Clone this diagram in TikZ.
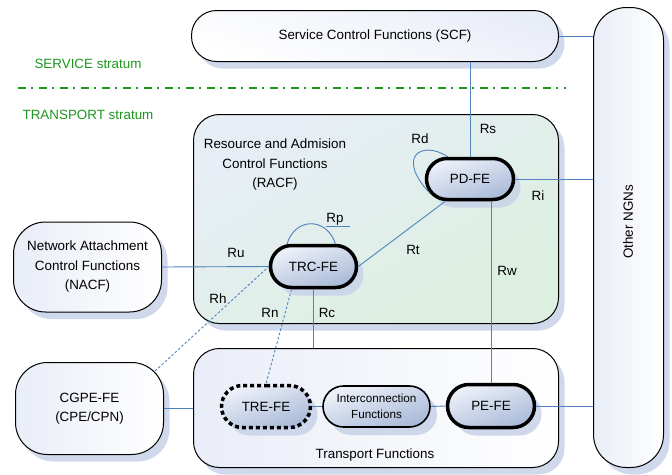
\documentclass[tikz,border=0pt]{standalone}
\usepackage{fontspec}
\setmainfont{Liberation Sans}
\usetikzlibrary{shapes.misc,shadows,calc}

\definecolor{conn}{HTML}{4F81BD}
\definecolor{strat}{HTML}{1E961E}
\definecolor{shade}{HTML}{C8D2E8}
\definecolor{feLight}{HTML}{EEF1F9}
\definecolor{feDark}{HTML}{A9BAD8}
\definecolor{racfA}{HTML}{E7EEF6}
\definecolor{racfB}{HTML}{DCEFE0}
\definecolor{paleA}{HTML}{FFFFFF}
\definecolor{paleB}{HTML}{E9EDF7}

\tikzset{
  txt/.style={font=\fontsize{13.4}{19.5}\selectfont, align=center, inner sep=0pt},
  bigbox/.style={txt, rectangle, draw=black, line width=1pt,
    drop shadow={shadow xshift=6pt, shadow yshift=-7pt, fill=shade, opacity=0.85}},
  fe/.style={txt, rounded rectangle, draw=black, line width=3.5pt,
    top color=feLight, bottom color=feDark, shading angle=20,
    drop shadow={shadow xshift=7pt, shadow yshift=-8pt, fill=shade, opacity=0.85}},
  lbl/.style={txt, text height=9.6pt, text depth=0pt},
  stratlbl/.style={txt, text=strat, text height=9.6pt, text depth=0pt},
  link/.style={draw=conn, line width=0.9pt},
  dlink/.style={link, dash pattern=on 2.5pt off 2pt},
  stratline/.style={draw=strat, line width=1.2pt, dash pattern=on 8pt off 5pt on 2pt off 6pt},
}

\begin{document}
\begin{tikzpicture}[x=1pt, y=-1pt]
  % canvas
  \fill[white] (0,0) rectangle (672,474);
  \useasboundingbox (0,0) rectangle (672,474);

  % strata
  \node[stratlbl] (svc) at (88,64) {SERVICE stratum};
  \node[stratlbl] (trp) at (88,115) {TRANSPORT stratum};
  \coordinate (sl1) at (18,88);
  \coordinate (sl2) at (566,88);
  \draw[stratline] (sl1) -- (sl2);

  % large function blocks
  \node[bigbox, rounded corners=25pt, minimum width=367pt, minimum height=51pt,
        left color=paleA, right color=paleB, shading angle=160] (scf) at (375,36)
        {Service Control Functions (SCF)};
  \node[bigbox, rounded corners=33pt, minimum width=70pt, minimum height=460pt,
        left color=paleB, right color=paleA] (ngn) at (628.5,237.5) {};
  \node[txt, rotate=90] (ngnlbl) at (628,222) {Other NGNs};
  \node[bigbox, rounded corners=26pt, minimum width=365pt, minimum height=209pt,
        top color=racfA, bottom color=racfB, shading angle=30] (racf) at (376,219) {};
  \node[txt] (racflbl) at (275,165) {Resource and Admision\\Control Functions\\(RACF)};
  \node[bigbox, rounded corners=26pt, minimum width=365pt, minimum height=119pt,
        left color=paleB, right color=paleA] (tf) at (376,408) {};
  \node[txt] (tflbl) at (375,455) {Transport Functions};
  \node[bigbox, rounded corners=32pt, minimum width=148pt, minimum height=90pt,
        left color=paleB, right color=paleA] (nacf) at (87.5,267)
        {Network Attachment\\Control Functions\\(NACF)};
  \node[bigbox, rounded corners=32pt, minimum width=148pt, minimum height=92pt,
        left color=paleB, right color=paleA] (cgpe) at (89.5,408.5)
        {CGPE-FE\\(CPE/CPN)};

  % functional entities
  \node[fe, minimum width=87pt, minimum height=41pt] (pd) at (470,179) {PD-FE};
  \node[fe, minimum width=86pt, minimum height=42pt] (trc) at (313.5,266.5) {TRC-FE};
  \node[fe, dash pattern=on 4pt off 3pt, minimum width=89pt, minimum height=42pt] (tre) at (266,406.5) {TRE-FE};
  \node[fe, line width=1.6pt, minimum width=107pt, minimum height=41pt,
        font=\fontsize{11.7}{16}\selectfont] (ic) at (376.5,406.5) {Interconnection\\Functions};
  \node[fe, minimum width=87pt, minimum height=43pt] (pe) at (491,406) {PE-FE};

  % reference points
  \draw[link] (scf.south -| pd.north) -- (pd.north);
  \draw[link] (scf.east) -- (scf.east -| ngn.west);
  \draw[link] (pd.east) -- (pd.east -| ngn.west);
  \draw[link] (pd.south -| pe.north) -- (pe.north);
  \draw[link] (trc.east) -- (pd.222);
  \draw[link] (pd.135) .. controls +(-26,-17) and +(-35,-37) .. (pd.200);
  \draw[link] (trc.140) .. controls +(8,-27) and +(-9,-27) .. (trc.46);
  \draw[link] (nacf.east) -- (trc.west);
  \draw[dlink] ($(cgpe.north east)+(-9,9)$) -- (trc.west);
  \draw[dlink] ($(trc.south)+(-22,0)$) -- (tre.north);
  \draw[link] (trc.south) -- (trc.south |- tf.north);
  \draw[link] (cgpe.east) -- (cgpe.east -| tf.west);
  \draw[link] (tre.east) -- (ic.west);
  \draw[link] (ic.east) -- (pe.west);
  \draw[link] (pe.east) -- (pe.east -| ngn.west);

  % reference point labels
  \node[lbl] (rs) at (488,129) {Rs};
  \node[lbl] (rd) at (420,139) {Rd};
  \node[lbl] (ri) at (538,196) {Ri};
  \node[lbl] (rw) at (507,271) {Rw};
  \node[lbl] (rt) at (413,250) {Rt};
  \node[lbl] (rp) at (335,218) {Rp};
  \draw[link] ($(rp.south west)+(0,3.5)$) -- ($(rp.south east)+(6,3.5)$);
  \node[lbl] (ru) at (236,253) {Ru};
  \node[lbl] (rh) at (218,299) {Rh};
  \node[lbl] (rn) at (270,313) {Rn};
  \node[lbl] (rc) at (327,313) {Rc};
\end{tikzpicture}
\end{document}
